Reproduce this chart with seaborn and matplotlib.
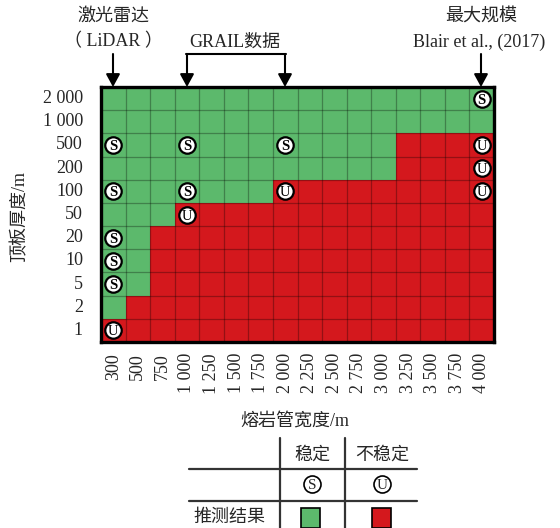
import matplotlib
matplotlib.use("Agg")
import matplotlib.pyplot as plt
from matplotlib.colors import ListedColormap
from matplotlib.lines import Line2D
from matplotlib.patches import Rectangle
import numpy as np
import pandas as pd
import seaborn as sns

# ---- data ----
widths = [300, 500, 750, 1000, 1250, 1500, 1750, 2000, 2250, 2500,
          2750, 3000, 3250, 3500, 3750, 4000]
width_labels = ["300", "500", "750", "1 000", "1 250", "1 500", "1 750", "2 000",
                "2 250", "2 500", "2 750", "3 000", "3 250", "3 500", "3 750", "4 000"]
thickness = [2000, 1000, 500, 200, 100, 50, 20, 10, 5, 2, 1]
thickness_labels = ["2 000", "1 000", "500", "200", "100", "50", "20", "10", "5", "2", "1"]
# widest stable tube for each roof thickness (0 = none stable)
max_stable_width = [4000, 4000, 3000, 3000, 1750, 750, 500, 500, 500, 300, 0]

stable_obs_width = [300, 1000, 2000, 300, 1000, 300, 300, 300, 4000]
stable_obs_thick = [500, 500, 500, 100, 100, 20, 10, 5, 2000]
unstable_obs_width = [1000, 2000, 300, 4000, 4000, 4000]
unstable_obs_thick = [50, 100, 1, 500, 200, 100]

GREEN = "#5cb96c"
RED = "#d4181d"

sns.set_style("white")
plt.rcParams["font.family"] = ["Liberation Serif", "Noto Sans CJK SC"]

W, H = 560, 528
fig = plt.figure(figsize=(W / 100, H / 100), dpi=100)


def fx(x):
    return x / W


def fy(y):
    return 1 - y / H


ax = fig.add_axes([fx(101), fy(342), 393 / W, 255 / H])

# 0 = stable, 1 = unstable
grid = np.array([[0 if w <= m else 1 for w in widths] for m in max_stable_width])
df = pd.DataFrame(grid, index=thickness_labels, columns=width_labels)
sns.heatmap(df, ax=ax, cmap=ListedColormap([GREEN, RED]), vmin=0, vmax=1,
            cbar=False, linewidths=0)

# cell grid lines
for i in range(1, len(widths)):
    ax.axvline(i, color=(0, 0, 0, 0.3), lw=0.9, zorder=2)
for j in range(1, len(thickness)):
    ax.axhline(j, color=(0, 0, 0, 0.3), lw=0.9, zorder=2)

for s in ax.spines.values():
    s.set_visible(True)
    s.set_linewidth(2.4)
    s.set_color("black")

ax.tick_params(axis="both", length=0)
ax.tick_params(axis="y", pad=13, labelsize=13)
ax.tick_params(axis="x", pad=8, labelsize=13)
ax.set_yticklabels(thickness_labels, rotation=0, ha="right")
ax.set_xticklabels(width_labels, rotation=90, ha="center", va="top")
ax.set_xlabel("")
ax.set_ylabel("")


def draw_obs(ws, ts, letter, weight):
    xs = [widths.index(w) + 0.5 for w in ws]
    ys = [thickness.index(t) + 0.5 for t in ts]
    ax.scatter(xs, ys, s=140, facecolor="white", edgecolor="black",
               linewidth=1.6, zorder=4, clip_on=False)
    for x, y in zip(xs, ys):
        ax.text(x, y, letter, ha="center", va="center_baseline", fontsize=10.5,
                fontweight=weight, color="black", zorder=5)


draw_obs(stable_obs_width, stable_obs_thick, "S", "bold")
draw_obs(unstable_obs_width, unstable_obs_thick, "U", "normal")

# axis titles
fig.text(fx(20), fy(216), "顶板厚度/m", rotation=90, ha="center", va="center", fontsize=13)
fig.text(fx(295), fy(422), "熔岩管宽度/m", ha="center", va="center", fontsize=13)

# data-source annotations above the grid
fs_top = 13
fig.text(fx(113), fy(16), "激光雷达", ha="center", va="center", fontsize=fs_top)
fig.text(fx(113), fy(42), "（ LiDAR ）", ha="center", va="center", fontsize=fs_top)
fig.text(fx(235), fy(42), "GRAIL数据", ha="center", va="center", fontsize=fs_top)
fig.text(fx(481), fy(16), "最大规模", ha="center", va="center", fontsize=fs_top)
fig.text(fx(479), fy(42), "Blair et al., (2017)", ha="center", va="center", fontsize=fs_top)


def down_arrow(x, y0, y1):
    fig.add_artist(plt.Annotation(
        "", xy=(fx(x), fy(y1)), xytext=(fx(x), fy(y0)),
        xycoords="figure fraction", textcoords="figure fraction",
        arrowprops=dict(arrowstyle="-|>,head_length=0.55,head_width=0.3",
                        mutation_scale=14, lw=1.5, color="black",
                        shrinkA=0, shrinkB=0)))


down_arrow(113, 54, 87)
down_arrow(187, 54, 87)
down_arrow(285, 54, 87)
down_arrow(481, 54, 87)
fig.add_artist(Line2D([fx(186.3), fx(285.7)], [fy(54), fy(54)], color="black", lw=1.5))

# legend table
line_kw = dict(color="#333333", lw=1.6)
fig.add_artist(Line2D([fx(280), fx(280)], [fy(438), fy(528)], **line_kw))
fig.add_artist(Line2D([fx(345), fx(345)], [fy(438), fy(528)], **line_kw))
fig.add_artist(Line2D([fx(189), fx(417)], [fy(469), fy(469)], **line_kw))
fig.add_artist(Line2D([fx(189), fx(417)], [fy(501), fy(501)], **line_kw))

fig.text(fx(312), fy(455), "稳定", ha="center", va="center", fontsize=13)
fig.text(fx(382), fy(455), "不稳定", ha="center", va="center", fontsize=13)
fig.text(fx(229), fy(517), "推测结果", ha="center", va="center", fontsize=13)

leg_ax = fig.add_axes([0, 0, 1, 1], facecolor="none")
leg_ax.set_xlim(0, W)
leg_ax.set_ylim(H, 0)
leg_ax.axis("off")
leg_ax.scatter([312, 382], [484, 484], s=150, facecolor="white",
               edgecolor="black", linewidth=1.2, zorder=3)
leg_ax.text(312, 484, "S", ha="center", va="center_baseline", fontsize=11)
leg_ax.text(382, 484, "U", ha="center", va="center_baseline", fontsize=11)
leg_ax.add_patch(Rectangle((301, 508), 19, 20, facecolor=GREEN, edgecolor="black", lw=1.2))
leg_ax.add_patch(Rectangle((372, 508), 19, 20, facecolor=RED, edgecolor="black", lw=1.2))

fig.savefig("out.png", dpi=100, facecolor="white")
